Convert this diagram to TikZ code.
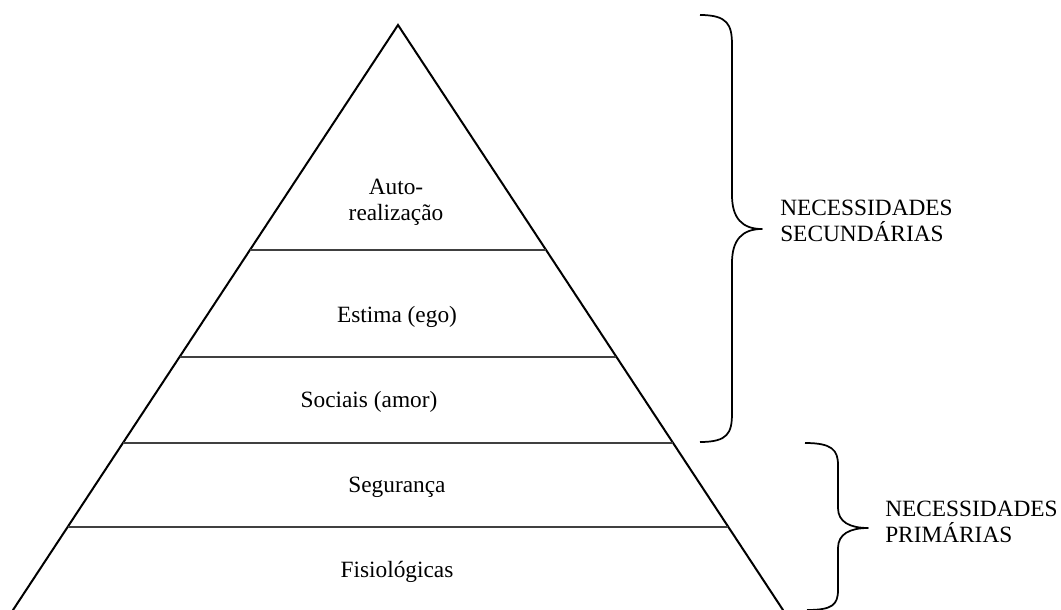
\documentclass[tikz,border=0pt]{standalone}
\usepackage{fontspec}
\setmainfont{Liberation Serif}
\usepackage{tikz}
\usetikzlibrary{calc}

\begin{document}
\begin{tikzpicture}[
                x=0.75pt, y=-0.75pt, % one unit is one pixel of the reference
                side/.style={line width=1.5pt, line cap=round}, % sides of the pyramid
                level/.style={line width=1pt, black!75}, % lines between the levels
                brace/.style={line width=1.3pt, line join=round},
                every node/.style={font=\fontsize{17.5}{19.2}\selectfont, inner sep=0pt}
                ]
                \useasboundingbox (0,0) rectangle (1061,610);
                \coordinate (apex) at (398,25);
                \coordinate (bl) at (13,610);
                \coordinate (br) at (783,610);
                \draw[side] (bl) -- (apex) -- (br);
                \foreach \t [count=\i] in {0.3846, 0.5675, 0.7145, 0.8581} {
                    \coordinate (l\i) at ($(apex)!\t!(bl)$);
                    \coordinate (r\i) at ($(apex)!\t!(br)$);
                    \draw[level] (l\i) -- (r\i);
                }
                \node[anchor=base, align=center] (auto) at (396,220) {Auto-\\realização};
                \node[anchor=base] (estima) at (397,322) {Estima (ego)};
                \node[anchor=base] (sociais) at (369,407) {Sociais (amor)};
                \node[anchor=base] (seguranca) at (397,492) {Segurança};
                \node[anchor=base] (fisio) at (397,577) {Fisiológicas};
                % braces
                \draw[brace] (700,15) .. controls (728,15) and (732,25) .. (732,45) -- (732,195)
                    .. controls (732,218) and (742,229) .. (762,229)
                    .. controls (742,229) and (732,240) .. (732,263) -- (732,413)
                    .. controls (732,433) and (728,442) .. (700,442);
                \draw[brace] (805,443) .. controls (832,443) and (838,450) .. (838,465) -- (838,508)
                    .. controls (838,522) and (850,528) .. (868,528)
                    .. controls (850,528) and (838,534) .. (838,548) -- (838,590)
                    .. controls (838,605) and (832,610) .. (807,610);
                \node[anchor=base west, align=left] (sec) at (780,241) {NECESSIDADES\\SECUNDÁRIAS};
                \node[anchor=base west, align=left] (prim) at (885,542) {NECESSIDADES\\PRIMÁRIAS};
            \end{tikzpicture}
\end{document}
